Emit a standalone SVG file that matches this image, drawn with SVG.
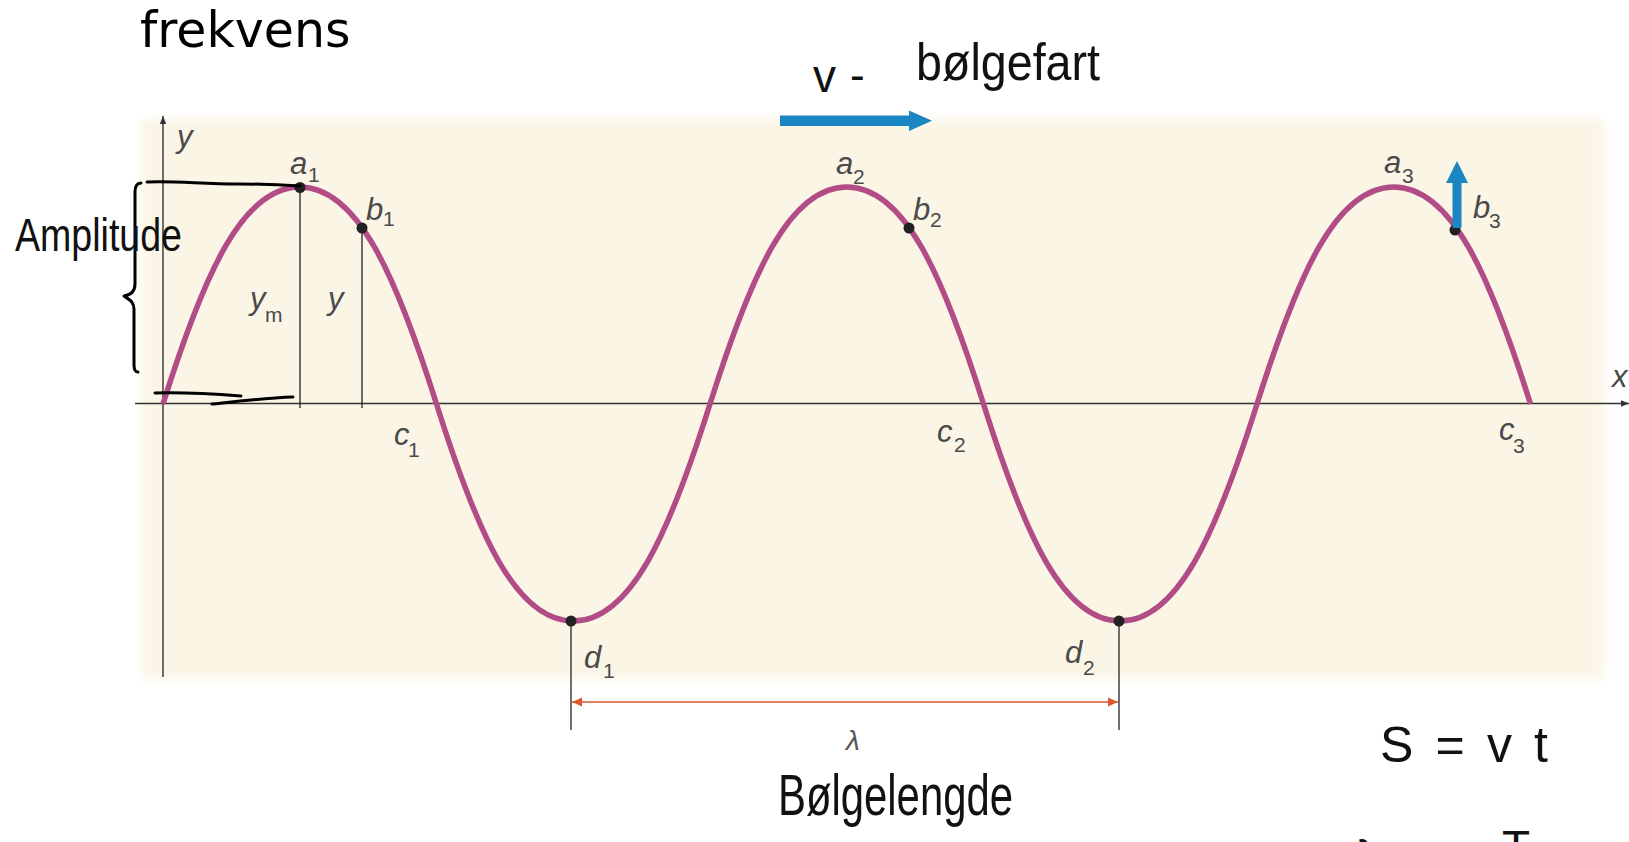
<svg xmlns="http://www.w3.org/2000/svg" width="1629" height="842" viewBox="0 0 1629 842">
  <defs>
    <style>
      .lbl { font-family: "Liberation Sans", Arial, sans-serif; font-style: italic; fill: #4a4a4a; font-size: 31px; }
      .sub { font-family: "Liberation Sans", Arial, sans-serif; fill: #4a4a4a; font-size: 21px; }
      .hand { font-family: "Liberation Sans", Arial, sans-serif; fill: #111; }
      .ax { stroke: #333; stroke-width: 1.4; fill: none; }
      .thin { stroke: #222; stroke-width: 1.3; fill: none; }
      .pen { stroke: #000; stroke-width: 3; fill: none; stroke-linecap: round; stroke-linejoin: round; }
      .dot { fill: #222; }
      .blue { fill: #1A86C2; }
    </style>
    <filter id="soft" x="-5%" y="-5%" width="110%" height="110%">
      <feGaussianBlur stdDeviation="5"/>
    </filter>
    <marker id="axhead" viewBox="0 0 10 10" refX="10" refY="5" markerWidth="8" markerHeight="8" markerUnits="userSpaceOnUse" orient="auto">
      <path d="M0,1 L10,5 L0,9 Z" fill="#333"/>
    </marker>
    <marker id="orh" viewBox="0 0 10 10" refX="10" refY="5" markerWidth="11" markerHeight="10" markerUnits="userSpaceOnUse" orient="auto-start-reverse">
      <path d="M0,0.5 L10,5 L0,9.5 Z" fill="#D85A2A"/>
    </marker>
  </defs>

  <rect width="1629" height="842" fill="#ffffff"/>

  <!-- cream panel -->
  <g id="panel">
    <rect x="142" y="119" width="1462" height="560" fill="#FBF5E6" filter="url(#soft)"/>
  </g>

  <!-- title -->
  <g id="title">
    <text x="140" y="47" font-family="DejaVu Sans, Liberation Sans, sans-serif" font-size="49" fill="#000">frekvens</text>
  </g>

  <!-- axes -->
  <g id="axes">
    <line class="ax" x1="163" y1="677" x2="163" y2="116" marker-end="url(#axhead)"/>
    <line class="ax" x1="135" y1="403.5" x2="1629" y2="403.5" marker-end="url(#axhead)"/>
    <text class="lbl" x="177" y="147">y</text>
    <text class="lbl" x="1612" y="387">x</text>
  </g>

  <!-- connectors / guide lines -->
  <g id="connectors">
    <line class="thin" x1="300" y1="187" x2="300" y2="408"/>
    <line class="thin" x1="362" y1="228" x2="362" y2="408"/>
    <line class="thin" x1="571" y1="621" x2="571" y2="730"/>
    <line class="thin" x1="1119" y1="621" x2="1119" y2="730"/>
    <line x1="572" y1="702" x2="1118" y2="702" stroke="#D85A2A" stroke-width="1.6" marker-start="url(#orh)" marker-end="url(#orh)"/>
  </g>

  <!-- wave -->
  <g id="wave">
    <path d="M163,404
      c41.05,-130.2 79.35,-217 136.75,-217
      c57.4,0 95.7,86.8 136.75,217
      c41.05,130.2 79.35,217 136.75,217
      c57.4,0 95.7,-86.8 136.75,-217
      c41.05,-130.2 79.35,-217 136.75,-217
      c57.4,0 95.7,86.8 136.75,217
      c41.05,130.2 79.35,217 136.75,217
      c57.4,0 95.7,-86.8 136.75,-217
      c41.05,-130.2 79.35,-217 136.75,-217
      c57.4,0 95.7,86.8 136.75,217"
      fill="none" stroke="#B24C86" stroke-width="5.5" stroke-linecap="butt"/>
  </g>

  <!-- points -->
  <g id="point-a1"><circle class="dot" cx="300" cy="187.5" r="5.5"/>
    <text class="lbl" x="290" y="174">a</text><text class="sub" x="308" y="182">1</text></g>
  <g id="point-b1"><circle class="dot" cx="362" cy="228" r="5.5"/>
    <text class="lbl" x="366" y="220">b</text><text class="sub" x="383" y="226">1</text></g>
  <g id="point-c1"><text class="lbl" x="394" y="445">c</text><text class="sub" x="408" y="457">1</text></g>
  <g id="point-d1"><circle class="dot" cx="571" cy="621" r="5.5"/>
    <text class="lbl" x="584" y="668">d</text><text class="sub" x="603" y="678">1</text></g>
  <g id="point-a2"><text class="lbl" x="836" y="174">a</text><text class="sub" x="853" y="184">2</text></g>
  <g id="point-b2"><circle class="dot" cx="909" cy="228" r="5.5"/>
    <text class="lbl" x="913" y="220">b</text><text class="sub" x="930" y="227">2</text></g>
  <g id="point-c2"><text class="lbl" x="937" y="442">c</text><text class="sub" x="954" y="452">2</text></g>
  <g id="point-d2"><circle class="dot" cx="1119" cy="621" r="5.5"/>
    <text class="lbl" x="1065" y="663">d</text><text class="sub" x="1083" y="675">2</text></g>
  <g id="point-a3"><text class="lbl" x="1384" y="173">a</text><text class="sub" x="1402" y="183">3</text></g>
  <g id="point-b3"><circle class="dot" cx="1455" cy="230" r="5.5"/>
    <text class="lbl" x="1473" y="218">b</text><text class="sub" x="1489" y="228">3</text></g>
  <g id="point-c3"><text class="lbl" x="1499" y="440">c</text><text class="sub" x="1513" y="453">3</text></g>

  <g id="labels">
    <text class="lbl" x="250" y="309">y</text><text class="sub" x="265" y="322">m</text>
    <text class="lbl" x="328" y="309">y</text>
    <text x="846" y="750" font-family="Liberation Sans, Arial, sans-serif" font-style="italic" font-size="28" fill="#555">λ</text>
  </g>

  <!-- blue arrows -->
  <g id="velocity-arrow">
    <rect class="blue" x="780" y="115.5" width="132" height="10.5"/>
    <polygon class="blue" points="909,110.5 932,120.8 909,131"/>
  </g>
  <g id="b3-arrow">
    <rect class="blue" x="1452.5" y="180" width="9" height="48"/>
    <polygon class="blue" points="1446,183 1457,161 1468,183"/>
  </g>

  <!-- handwritten annotations -->
  <g id="amplitude-note">
    <path class="pen" d="M147,182 C180,181 200,184 240,184 C265,184 285,185 300,186"/>
    <path class="pen" d="M155,393 C185,392 215,394 241,396"/>
    <path class="pen" d="M212,404 C240,401 265,398 293,397"/>
    <path class="pen" d="M141,183 C137,183 135,186 135,192 L135,284 C135,291 131,295 124,296 C128,299 134,301 134,309 L134,365 C134,370 136,372 138,372"/>
    <text class="hand" x="15" y="251" font-size="46" textLength="167" lengthAdjust="spacingAndGlyphs">Amplitude</text>
  </g>
  <g id="velocity-note">
    <text class="hand" x="813" y="92" font-size="46">v</text>
    <text class="hand" x="850" y="90" font-size="44">-</text>
    <text class="hand" x="916" y="80" font-size="52" textLength="184" lengthAdjust="spacingAndGlyphs">bølgefart</text>
  </g>
  <g id="wavelength-note">
    <text class="hand" x="778" y="815" font-size="58" textLength="235" lengthAdjust="spacingAndGlyphs">Bølgelengde</text>
  </g>
  <g id="formula-note">
    <text class="hand" x="1380" y="762" font-size="50" textLength="168" lengthAdjust="spacing">S = v t</text>
  </g>
  <g id="cut-note">
    <text class="hand" x="1356" y="874" font-size="48">λ</text>
    <text class="hand" x="1502" y="863" font-size="46">T</text>
  </g>
</svg>
